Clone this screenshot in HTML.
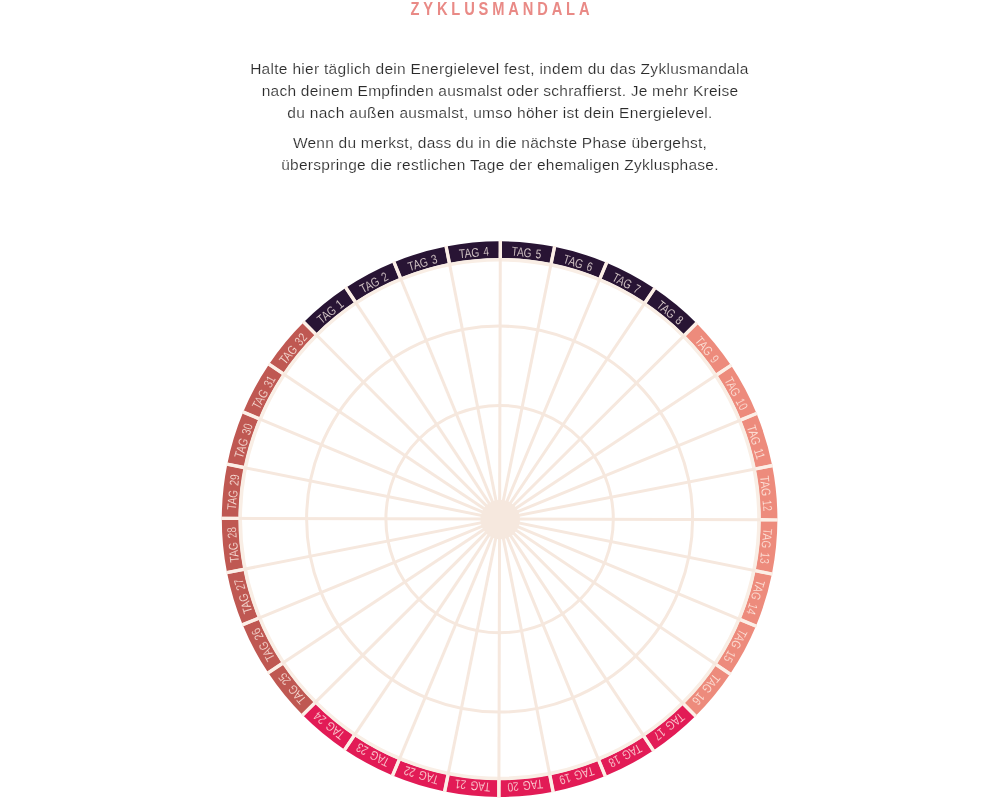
<!DOCTYPE html>
<html lang="de">
<head>
<meta charset="utf-8">
<title>Zyklusmandala</title>
<style>
html,body{margin:0;padding:0;background:#fff;}
body{width:1000px;height:800px;overflow:hidden;position:relative;font-family:"Liberation Sans",sans-serif;}
h1{position:absolute;left:0;width:1000px;top:-2.6px;margin:0;text-align:center;font-size:17.9px;line-height:24px;font-weight:bold;color:#e98a86;letter-spacing:4.7px;text-indent:4.7px;transform:scaleX(0.82);transform-origin:500px 0;}
.txt{position:absolute;left:200px;width:600px;top:57.7px;text-align:center;color:#2b2b2b;font-size:15.5px;line-height:22px;letter-spacing:0.28px;-webkit-text-stroke:0.18px #fff;}
.txt p{margin:0 0 8.6px 0;}
.l1{letter-spacing:0.295px;position:relative;left:-0.6px}.l2{letter-spacing:0.235px}.l3{letter-spacing:0.315px}.l4{letter-spacing:0.235px}.l5{letter-spacing:0.265px}
.mandala{position:absolute;left:0;top:0;}
.lbl text{font-family:"Liberation Sans",sans-serif;font-size:12.7px;word-spacing:1.8px;stroke-width:0.22px;}
</style>
</head>
<body>
<h1>ZYKLUSMANDALA</h1>
<div class="txt">
<p><span class="l1">Halte hier täglich dein Energielevel fest, indem du das Zyklusmandala</span><br><span class="l2">nach deinem Empfinden ausmalst oder schraffierst. Je mehr Kreise</span><br><span class="l3">du nach außen ausmalst, umso höher ist dein Energielevel.</span></p>
<p><span class="l4">Wenn du merkst, dass du in die nächste Phase übergehst,</span><br><span class="l5">überspringe die restlichen Tage der ehemaligen Zyklusphase.</span></p>
</div>
<svg class="mandala" width="1000" height="800" viewBox="0 0 1000 800">
<g fill="none" stroke-width="16.90">
<path d="M309.64 328.14A269.35 269.35 0 0 1 350.54 294.75" stroke="#281434"/>
<path d="M350.54 294.75A269.35 269.35 0 0 1 397.18 269.98" stroke="#281434"/>
<path d="M397.18 269.98A269.35 269.35 0 0 1 447.74 254.79" stroke="#281434"/>
<path d="M447.74 254.79A269.35 269.35 0 0 1 500.31 249.75" stroke="#281434"/>
<path d="M500.31 249.75A269.35 269.35 0 0 1 552.84 255.06" stroke="#281434"/>
<path d="M552.84 255.06A269.35 269.35 0 0 1 603.33 270.52" stroke="#281434"/>
<path d="M603.33 270.52A269.35 269.35 0 0 1 649.83 295.54" stroke="#281434"/>
<path d="M649.83 295.54A269.35 269.35 0 0 1 690.56 329.14" stroke="#281434"/>
<path d="M690.56 329.14A269.35 269.35 0 0 1 723.95 370.04" stroke="#ed8b7c"/>
<path d="M723.95 370.04A269.35 269.35 0 0 1 748.72 416.68" stroke="#ed8b7c"/>
<path d="M748.72 416.68A269.35 269.35 0 0 1 763.91 467.24" stroke="#ed8b7c"/>
<path d="M763.91 467.24A269.35 269.35 0 0 1 768.95 519.81" stroke="#ed8b7c"/>
<path d="M768.95 519.81A269.35 269.35 0 0 1 763.64 572.34" stroke="#ed8b7c"/>
<path d="M763.64 572.34A269.35 269.35 0 0 1 748.18 622.83" stroke="#ed8b7c"/>
<path d="M748.18 622.83A269.35 269.35 0 0 1 723.16 669.33" stroke="#ed8b7c"/>
<path d="M723.16 669.33A269.35 269.35 0 0 1 689.56 710.06" stroke="#ed8b7c"/>
<path d="M689.56 710.06A269.35 269.35 0 0 1 648.66 743.45" stroke="#e21b56"/>
<path d="M648.66 743.45A269.35 269.35 0 0 1 602.02 768.22" stroke="#e21b56"/>
<path d="M602.02 768.22A269.35 269.35 0 0 1 551.46 783.41" stroke="#e21b56"/>
<path d="M551.46 783.41A269.35 269.35 0 0 1 498.89 788.45" stroke="#e21b56"/>
<path d="M498.89 788.45A269.35 269.35 0 0 1 446.36 783.14" stroke="#e21b56"/>
<path d="M446.36 783.14A269.35 269.35 0 0 1 395.87 767.68" stroke="#e21b56"/>
<path d="M395.87 767.68A269.35 269.35 0 0 1 349.37 742.66" stroke="#e21b56"/>
<path d="M349.37 742.66A269.35 269.35 0 0 1 308.64 709.06" stroke="#e21b56"/>
<path d="M308.64 709.06A269.35 269.35 0 0 1 275.25 668.16" stroke="#bf5852"/>
<path d="M275.25 668.16A269.35 269.35 0 0 1 250.48 621.52" stroke="#bf5852"/>
<path d="M250.48 621.52A269.35 269.35 0 0 1 235.29 570.96" stroke="#bf5852"/>
<path d="M235.29 570.96A269.35 269.35 0 0 1 230.25 518.39" stroke="#bf5852"/>
<path d="M230.25 518.39A269.35 269.35 0 0 1 235.56 465.86" stroke="#bf5852"/>
<path d="M235.56 465.86A269.35 269.35 0 0 1 251.02 415.37" stroke="#bf5852"/>
<path d="M251.02 415.37A269.35 269.35 0 0 1 276.04 368.87" stroke="#bf5852"/>
<path d="M276.04 368.87A269.35 269.35 0 0 1 309.64 328.14" stroke="#bf5852"/>
</g>
<g fill="none" stroke="#f6e8de" stroke-width="3.0">
<circle cx="499.6" cy="519.1" r="113.7"/>
<circle cx="499.6" cy="519.1" r="193.0"/>
<circle cx="499.6" cy="519.1" r="259.4" stroke="#f9eee5" stroke-width="3.6"/>
</g>
<g stroke="#f6e8de" stroke-width="3.0">
<line x1="499.6" y1="519.1" x2="303.33" y2="321.80"/>
<line x1="499.6" y1="519.1" x2="345.59" y2="287.30"/>
<line x1="499.6" y1="519.1" x2="393.77" y2="261.71"/>
<line x1="499.6" y1="519.1" x2="446.02" y2="246.01"/>
<line x1="499.6" y1="519.1" x2="500.33" y2="240.80"/>
<line x1="499.6" y1="519.1" x2="554.61" y2="246.29"/>
<line x1="499.6" y1="519.1" x2="606.77" y2="262.26"/>
<line x1="499.6" y1="519.1" x2="654.82" y2="288.11"/>
<line x1="499.6" y1="519.1" x2="696.90" y2="322.83"/>
<line x1="499.6" y1="519.1" x2="731.40" y2="365.09"/>
<line x1="499.6" y1="519.1" x2="756.99" y2="413.27"/>
<line x1="499.6" y1="519.1" x2="772.69" y2="465.52"/>
<line x1="499.6" y1="519.1" x2="777.90" y2="519.83"/>
<line x1="499.6" y1="519.1" x2="772.41" y2="574.11"/>
<line x1="499.6" y1="519.1" x2="756.44" y2="626.27"/>
<line x1="499.6" y1="519.1" x2="730.59" y2="674.32"/>
<line x1="499.6" y1="519.1" x2="695.87" y2="716.40"/>
<line x1="499.6" y1="519.1" x2="653.61" y2="750.90"/>
<line x1="499.6" y1="519.1" x2="605.43" y2="776.49"/>
<line x1="499.6" y1="519.1" x2="553.18" y2="792.19"/>
<line x1="499.6" y1="519.1" x2="498.87" y2="797.40"/>
<line x1="499.6" y1="519.1" x2="444.59" y2="791.91"/>
<line x1="499.6" y1="519.1" x2="392.43" y2="775.94"/>
<line x1="499.6" y1="519.1" x2="344.38" y2="750.09"/>
<line x1="499.6" y1="519.1" x2="302.30" y2="715.37"/>
<line x1="499.6" y1="519.1" x2="267.80" y2="673.11"/>
<line x1="499.6" y1="519.1" x2="242.21" y2="624.93"/>
<line x1="499.6" y1="519.1" x2="226.51" y2="572.68"/>
<line x1="499.6" y1="519.1" x2="221.30" y2="518.37"/>
<line x1="499.6" y1="519.1" x2="226.79" y2="464.09"/>
<line x1="499.6" y1="519.1" x2="242.76" y2="411.93"/>
<line x1="499.6" y1="519.1" x2="268.61" y2="363.88"/>
</g>
<g stroke="#fcefe7" stroke-width="3.4">
<line x1="315.60" y1="334.13" x2="303.33" y2="321.80"/>
<line x1="355.22" y1="301.79" x2="345.59" y2="287.30"/>
<line x1="400.39" y1="277.80" x2="393.77" y2="261.71"/>
<line x1="449.37" y1="263.08" x2="446.02" y2="246.01"/>
<line x1="500.28" y1="258.20" x2="500.33" y2="240.80"/>
<line x1="551.17" y1="263.35" x2="554.61" y2="246.29"/>
<line x1="600.07" y1="278.32" x2="606.77" y2="262.26"/>
<line x1="645.12" y1="302.55" x2="654.82" y2="288.11"/>
<line x1="684.57" y1="335.10" x2="696.90" y2="322.83"/>
<line x1="716.91" y1="374.72" x2="731.40" y2="365.09"/>
<line x1="740.90" y1="419.89" x2="756.99" y2="413.27"/>
<line x1="755.62" y1="468.87" x2="772.69" y2="465.52"/>
<line x1="760.50" y1="519.78" x2="777.90" y2="519.83"/>
<line x1="755.35" y1="570.67" x2="772.41" y2="574.11"/>
<line x1="740.38" y1="619.57" x2="756.44" y2="626.27"/>
<line x1="716.15" y1="664.62" x2="730.59" y2="674.32"/>
<line x1="683.60" y1="704.07" x2="695.87" y2="716.40"/>
<line x1="643.98" y1="736.41" x2="653.61" y2="750.90"/>
<line x1="598.81" y1="760.40" x2="605.43" y2="776.49"/>
<line x1="549.83" y1="775.12" x2="553.18" y2="792.19"/>
<line x1="498.92" y1="780.00" x2="498.87" y2="797.40"/>
<line x1="448.03" y1="774.85" x2="444.59" y2="791.91"/>
<line x1="399.13" y1="759.88" x2="392.43" y2="775.94"/>
<line x1="354.08" y1="735.65" x2="344.38" y2="750.09"/>
<line x1="314.63" y1="703.10" x2="302.30" y2="715.37"/>
<line x1="282.29" y1="663.48" x2="267.80" y2="673.11"/>
<line x1="258.30" y1="618.31" x2="242.21" y2="624.93"/>
<line x1="243.58" y1="569.33" x2="226.51" y2="572.68"/>
<line x1="238.70" y1="518.42" x2="221.30" y2="518.37"/>
<line x1="243.85" y1="467.53" x2="226.79" y2="464.09"/>
<line x1="258.82" y1="418.63" x2="242.76" y2="411.93"/>
<line x1="283.05" y1="373.58" x2="268.61" y2="363.88"/>
</g>
<circle cx="500.2" cy="519.5" r="19.8" fill="#f6e8de"/>
<g class="lbl" fill="#fff3ec" fill-opacity="0.94" text-anchor="middle">
<text transform="translate(499.6 519.1) rotate(-39.225) translate(0 -263.40) scale(0.795 1)" stroke="#281434">TAG 1</text>
<text transform="translate(499.6 519.1) rotate(-27.975) translate(0 -263.40) scale(0.795 1)" stroke="#281434">TAG 2</text>
<text transform="translate(499.6 519.1) rotate(-16.725) translate(0 -263.40) scale(0.795 1)" stroke="#281434">TAG 3</text>
<text transform="translate(499.6 519.1) rotate(-5.475) translate(0 -263.40) scale(0.795 1)" stroke="#281434">TAG 4</text>
<text transform="translate(499.6 519.1) rotate(5.775) translate(0 -263.40) scale(0.795 1)" stroke="#281434">TAG 5</text>
<text transform="translate(499.6 519.1) rotate(17.025) translate(0 -263.40) scale(0.795 1)" stroke="#281434">TAG 6</text>
<text transform="translate(499.6 519.1) rotate(28.275) translate(0 -263.40) scale(0.795 1)" stroke="#281434">TAG 7</text>
<text transform="translate(499.6 519.1) rotate(39.525) translate(0 -263.40) scale(0.795 1)" stroke="#281434">TAG 8</text>
<text transform="translate(499.6 519.1) rotate(50.775) translate(0 -263.40) scale(0.795 1)" stroke="#ed8b7c">TAG 9</text>
<text transform="translate(499.6 519.1) rotate(62.025) translate(0 -263.40) scale(0.795 1)" stroke="#ed8b7c">TAG 10</text>
<text transform="translate(499.6 519.1) rotate(73.275) translate(0 -263.40) scale(0.795 1)" stroke="#ed8b7c">TAG 11</text>
<text transform="translate(499.6 519.1) rotate(84.525) translate(0 -263.40) scale(0.795 1)" stroke="#ed8b7c">TAG 12</text>
<text transform="translate(499.6 519.1) rotate(95.775) translate(0 -263.40) scale(0.795 1)" stroke="#ed8b7c">TAG 13</text>
<text transform="translate(499.6 519.1) rotate(107.025) translate(0 -263.40) scale(0.795 1)" stroke="#ed8b7c">TAG 14</text>
<text transform="translate(499.6 519.1) rotate(118.275) translate(0 -263.40) scale(0.795 1)" stroke="#ed8b7c">TAG 15</text>
<text transform="translate(499.6 519.1) rotate(129.525) translate(0 -263.40) scale(0.795 1)" stroke="#ed8b7c">TAG 16</text>
<text transform="translate(499.6 519.1) rotate(140.775) translate(0 -263.40) scale(0.795 1)" stroke="#e21b56">TAG 17</text>
<text transform="translate(499.6 519.1) rotate(152.025) translate(0 -263.40) scale(0.795 1)" stroke="#e21b56">TAG 18</text>
<text transform="translate(499.6 519.1) rotate(163.275) translate(0 -263.40) scale(0.795 1)" stroke="#e21b56">TAG 19</text>
<text transform="translate(499.6 519.1) rotate(174.525) translate(0 -263.40) scale(0.795 1)" stroke="#e21b56">TAG 20</text>
<text transform="translate(499.6 519.1) rotate(185.775) translate(0 -263.40) scale(0.795 1)" stroke="#e21b56">TAG 21</text>
<text transform="translate(499.6 519.1) rotate(197.025) translate(0 -263.40) scale(0.795 1)" stroke="#e21b56">TAG 22</text>
<text transform="translate(499.6 519.1) rotate(208.275) translate(0 -263.40) scale(0.795 1)" stroke="#e21b56">TAG 23</text>
<text transform="translate(499.6 519.1) rotate(219.525) translate(0 -263.40) scale(0.795 1)" stroke="#e21b56">TAG 24</text>
<text transform="translate(499.6 519.1) rotate(230.775) translate(0 -263.40) scale(0.795 1)" stroke="#bf5852">TAG 25</text>
<text transform="translate(499.6 519.1) rotate(242.025) translate(0 -263.40) scale(0.795 1)" stroke="#bf5852">TAG 26</text>
<text transform="translate(499.6 519.1) rotate(253.275) translate(0 -263.40) scale(0.795 1)" stroke="#bf5852">TAG 27</text>
<text transform="translate(499.6 519.1) rotate(264.525) translate(0 -263.40) scale(0.795 1)" stroke="#bf5852">TAG 28</text>
<text transform="translate(499.6 519.1) rotate(275.775) translate(0 -263.40) scale(0.795 1)" stroke="#bf5852">TAG 29</text>
<text transform="translate(499.6 519.1) rotate(287.025) translate(0 -263.40) scale(0.795 1)" stroke="#bf5852">TAG 30</text>
<text transform="translate(499.6 519.1) rotate(298.275) translate(0 -263.40) scale(0.795 1)" stroke="#bf5852">TAG 31</text>
<text transform="translate(499.6 519.1) rotate(309.525) translate(0 -263.40) scale(0.795 1)" stroke="#bf5852">TAG 32</text>
</g>
</svg>
</body>
</html>
